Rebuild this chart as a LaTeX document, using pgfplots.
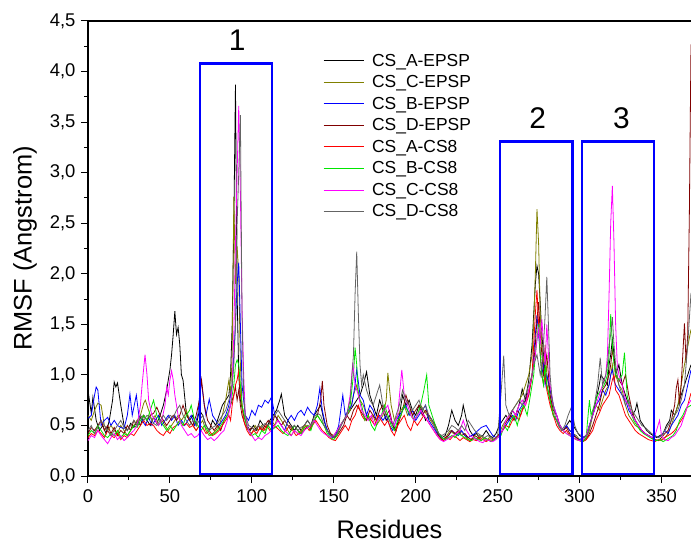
\documentclass[border=0pt]{standalone}
\usepackage{pgfplots}
\pgfplotsset{compat=1.18}
\usepackage{fontspec}
\setmainfont{Liberation Sans}
\usetikzlibrary{calc}
\definecolor{cOlive}{RGB}{128,128,0}
\definecolor{cDRed}{RGB}{128,0,0}
\definecolor{cGreen}{RGB}{0,230,0}
\definecolor{cMag}{RGB}{255,0,255}
\definecolor{cGrey}{RGB}{100,100,100}
\definecolor{cBlue}{RGB}{0,0,255}
\begin{document}
\begin{tikzpicture}
\begin{axis}[
  scale only axis, width=603bp, height=455bp,
  xmin=0, xmax=368, ymin=0, ymax=4.5,
  axis x line*=bottom, axis y line*=left,
  axis line style={line width=1.2bp, black},
  tick align=outside,
  xtick={0,50,...,350}, minor xtick={25,75,...,375},
  ytick={0,0.5,...,4.5}, minor ytick={0.25,0.75,...,4.25},
  major tick length=7bp, minor tick length=4bp,
  every tick/.style={black, line width=1bp},
  /pgf/number format/assume math mode=true,
  yticklabel style={xshift=-2bp, /pgf/number format/.cd, fixed, fixed zerofill, precision=1, use comma},
  ticklabel style={font=\fontsize{18.5}{21}\selectfont},
  xticklabel style={yshift=-3bp},
  xlabel={Residues}, ylabel={RMSF (Angstrom)},
  label style={font=\fontsize{25.5}{29}\selectfont},
  xlabel style={yshift=-11bp},
  ylabel style={yshift=6bp},
  legend style={at={(rel axis cs:0.385,0.937)}, anchor=north west, draw=none, fill=none,
    font=\fontsize{17.5}{20}\selectfont, row sep=3.9bp,
    /tikz/every odd column/.append style={column sep=6bp}},
  legend cell align=left,
  legend image code/.code={\draw[#1] (0bp,0bp) -- (40bp,0bp);},
  every axis plot/.append style={line width=0.8bp},
  clip=true,
]
\addplot[black] coordinates {(0,0.85) (2,0.62) (3,0.78) (5,0.55) (7,0.45) (9,0.5) (11,0.42) (13,0.55) (15,0.75) (16,0.93) (17,0.88) (18,0.92) (20,0.7) (22,0.5) (24,0.45) (26,0.52) (28,0.48) (30,0.55) (32,0.5) (34,0.6) (36,0.55) (38,0.5) (40,0.58) (42,0.52) (44,0.6) (46,0.7) (48,0.85) (50,1.05) (51,1.2) (52,1.4) (53,1.63) (54,1.4) (55,1.47) (56,1.3) (57,1.0) (58,0.95) (60,0.62) (62,0.55) (64,0.6) (66,0.5) (68,0.65) (70,0.6) (72,0.5) (74,0.45) (76,0.55) (78,0.5) (80,0.6) (82,0.7) (84,0.75) (86,0.8) (87,1.0) (88,1.5) (89,2.5) (90,3.87) (91,1.8) (92,1.0) (93,0.75) (95,0.6) (97,0.5) (99,0.45) (101,0.5) (103,0.45) (105,0.55) (107,0.5) (109,0.48) (111,0.55) (113,0.6) (115,0.65) (117,0.75) (118,0.81) (120,0.6) (122,0.55) (124,0.5) (126,0.45) (128,0.5) (130,0.45) (132,0.5) (134,0.55) (136,0.5) (138,0.6) (140,0.65) (142,0.7) (144,0.55) (146,0.45) (148,0.4) (150,0.38) (152,0.42) (154,0.5) (156,0.55) (158,0.6) (160,0.65) (162,0.7) (164,0.75) (166,0.8) (168,0.9) (170,1.03) (172,0.8) (174,0.7) (176,0.6) (178,0.75) (180,0.65) (182,0.55) (184,0.6) (186,0.5) (188,0.45) (190,0.6) (192,0.8) (194,0.7) (196,0.75) (198,0.65) (200,0.6) (202,0.7) (204,0.65) (206,0.55) (208,0.6) (210,0.55) (212,0.5) (214,0.42) (216,0.38) (218,0.4) (220,0.5) (222,0.65) (224,0.55) (226,0.5) (228,0.6) (229,0.7) (231,0.55) (233,0.45) (235,0.4) (237,0.42) (239,0.38) (241,0.4) (243,0.45) (245,0.4) (247,0.38) (249,0.42) (251,0.5) (253,0.55) (255,0.6) (257,0.55) (259,0.65) (261,0.6) (263,0.7) (265,0.86) (267,0.75) (269,0.95) (271,1.3) (272,1.6) (273,1.9) (274,2.08) (275,2.0) (276,1.7) (277,1.4) (278,1.2) (279,1.0) (280,0.9) (282,0.75) (284,0.6) (286,0.55) (288,0.5) (290,0.45) (292,0.5) (294,0.55) (296,0.5) (298,0.45) (300,0.4) (302,0.38) (304,0.4) (306,0.5) (308,0.6) (310,0.75) (312,0.9) (313,1.0) (315,0.95) (317,0.9) (318,1.1) (319,1.2) (320,1.35) (321,1.2) (322,1.0) (324,1.1) (326,0.9) (328,0.8) (330,0.7) (332,0.6) (334,0.65) (335,0.72) (337,0.55) (339,0.5) (341,0.45) (343,0.42) (345,0.4) (347,0.38) (349,0.4) (351,0.42) (353,0.5) (355,0.55) (356,0.65) (358,0.6) (360,0.7) (362,0.8) (364,0.9) (366,1.0) (368,1.1)};
\addlegendentry{CS\_A-EPSP}
\addplot[cOlive] coordinates {(0,0.6) (2,0.55) (4,0.65) (6,0.72) (8,0.7) (10,0.5) (12,0.45) (14,0.5) (16,0.45) (18,0.42) (20,0.5) (22,0.45) (24,0.4) (26,0.45) (28,0.5) (30,0.55) (32,0.6) (34,0.72) (35,0.75) (37,0.65) (39,0.55) (41,0.6) (43,0.5) (45,0.55) (47,0.5) (49,0.45) (51,0.5) (53,0.55) (55,0.6) (57,0.55) (59,0.6) (60,0.65) (62,0.55) (64,0.5) (66,0.45) (68,0.5) (70,0.55) (72,0.45) (74,0.4) (76,0.42) (78,0.45) (80,0.5) (82,0.6) (84,0.75) (86,0.95) (87,0.8) (88,1.2) (89,2.76) (90,1.9) (91,2.27) (92,2.0) (93,1.1) (94,0.7) (96,0.55) (98,0.45) (100,0.42) (102,0.5) (104,0.45) (106,0.5) (108,0.45) (110,0.5) (112,0.55) (114,0.5) (116,0.6) (118,0.55) (120,0.5) (122,0.45) (124,0.4) (126,0.45) (128,0.42) (130,0.45) (132,0.5) (134,0.48) (136,0.5) (138,0.55) (140,0.6) (142,0.55) (144,0.5) (146,0.45) (148,0.42) (150,0.4) (152,0.45) (154,0.5) (156,0.55) (158,0.6) (160,0.65) (162,0.8) (164,0.9) (166,0.75) (168,0.7) (170,0.6) (172,0.55) (174,0.6) (176,0.5) (178,0.55) (180,0.6) (182,0.75) (183,1.02) (185,0.7) (187,0.55) (189,0.6) (191,0.65) (193,0.7) (195,0.6) (197,0.65) (199,0.55) (201,0.6) (203,0.7) (205,0.65) (207,0.6) (209,0.55) (211,0.5) (213,0.42) (215,0.38) (217,0.35) (219,0.4) (221,0.45) (223,0.42) (225,0.4) (227,0.45) (229,0.42) (231,0.38) (233,0.35) (235,0.38) (237,0.36) (239,0.4) (241,0.38) (243,0.35) (245,0.38) (247,0.36) (249,0.38) (251,0.42) (253,0.5) (255,0.55) (257,0.6) (259,0.65) (261,0.7) (263,0.75) (265,0.8) (267,0.9) (269,1.0) (271,1.2) (272,1.5) (273,2.0) (274,2.64) (275,2.3) (276,1.6) (277,1.3) (278,1.1) (279,1.3) (280,1.0) (282,0.8) (284,0.6) (286,0.55) (288,0.48) (290,0.45) (292,0.5) (294,0.45) (296,0.42) (298,0.4) (300,0.36) (302,0.35) (304,0.38) (306,0.45) (308,0.6) (310,0.7) (312,0.65) (314,0.75) (316,0.85) (318,0.9) (319,1.0) (320,1.1) (321,0.95) (322,1.0) (324,0.9) (326,0.85) (328,0.7) (330,0.6) (332,0.55) (334,0.5) (336,0.48) (338,0.45) (340,0.42) (342,0.4) (344,0.38) (346,0.36) (348,0.35) (350,0.36) (352,0.38) (354,0.42) (356,0.5) (358,0.6) (360,0.7) (362,0.9) (364,1.1) (366,1.28) (368,1.45)};
\addlegendentry{CS\_C-EPSP}
\addplot[cBlue] coordinates {(0,0.57) (2,0.6) (4,0.8) (5,0.88) (6,0.85) (8,0.5) (10,0.55) (12,0.58) (14,0.5) (16,0.55) (18,0.5) (20,0.48) (22,0.47) (24,0.6) (25.6,0.81) (27,0.6) (29.5,0.8) (31,0.6) (33,0.55) (35,0.5) (37,0.58) (39,0.5) (41,0.55) (43,0.6) (45,0.5) (47,0.55) (49,0.6) (51,0.55) (53,0.6) (55,0.5) (57,0.55) (59,0.5) (61,0.55) (63,0.6) (65,0.5) (67,0.6) (69,0.95) (71,0.7) (72,0.6) (74,0.76) (76,0.6) (78,0.55) (80,0.5) (82,0.55) (84,0.6) (86,0.7) (88,0.9) (89,1.2) (90,1.5) (91,1.9) (92,2.11) (93,1.5) (94,0.9) (96,0.6) (98,0.55) (100,0.65) (102,0.6) (104,0.7) (106,0.68) (108,0.75) (110,0.72) (112,0.78) (114,0.6) (116,0.55) (118,0.5) (120,0.45) (122,0.55) (124,0.6) (126,0.55) (128,0.62) (130,0.65) (132,0.6) (134,0.68) (136,0.63) (138,0.6) (140,0.7) (141.5,0.87) (143,0.65) (145,0.5) (147,0.42) (149,0.38) (151,0.4) (153,0.5) (155.5,0.8) (157,0.6) (159,0.65) (161,0.7) (163,0.9) (164,1.06) (166,0.8) (168,0.75) (170,0.6) (172,0.7) (174,0.65) (176,0.55) (178,0.6) (180,0.55) (182,0.6) (184,0.5) (186,0.45) (188,0.55) (190,0.6) (192,0.65) (194,0.7) (196,0.6) (198,0.65) (200,0.55) (202,0.6) (204,0.65) (206,0.7) (208,0.55) (210,0.5) (212,0.45) (214,0.4) (216,0.38) (218,0.36) (220,0.4) (222,0.45) (224,0.42) (226,0.4) (228,0.45) (230,0.4) (232,0.38) (234,0.4) (236,0.42) (238,0.45) (240,0.48) (243,0.5) (245,0.45) (247,0.4) (249,0.38) (251,0.4) (253,0.45) (255,0.5) (257,0.55) (259,0.6) (261,0.55) (263,0.65) (265,0.7) (267,0.75) (269,0.8) (271,1.0) (272,1.2) (273,1.4) (274,1.59) (275,1.4) (276,1.2) (277,1.0) (278,1.1) (279,0.9) (280,1.0) (282,0.85) (284,0.7) (286,0.6) (288,0.5) (290,0.45) (292,0.5) (294,0.45) (296,0.42) (298,0.38) (300,0.36) (302,0.38) (304,0.4) (306,0.5) (308,0.6) (310,0.7) (312,0.75) (314,0.85) (316,0.8) (318,0.9) (319,1.0) (320,1.05) (321,0.95) (322,0.9) (324,0.85) (326,0.8) (328,0.75) (330,0.65) (332,0.6) (334,0.55) (336,0.5) (338,0.45) (340,0.42) (342,0.4) (344,0.38) (346,0.4) (348,0.38) (350,0.4) (352,0.45) (354,0.42) (356,0.5) (358,0.55) (360,0.6) (362,0.7) (364,0.75) (366,0.9) (368,1.05)};
\addlegendentry{CS\_B-EPSP}
\addplot[cDRed] coordinates {(0,0.42) (2,0.48) (4,0.45) (6,0.5) (8,0.55) (10,0.45) (12,0.5) (14,0.42) (16,0.48) (18,0.4) (20,0.45) (22,0.42) (24,0.5) (26,0.45) (28,0.55) (30,0.5) (32,0.58) (34,0.6) (36,0.55) (38,0.6) (40,0.62) (42,0.68) (44,0.6) (46,0.55) (48,0.5) (50,0.55) (52,0.6) (54,0.55) (56,0.6) (58,0.7) (60,0.6) (62,0.55) (64,0.5) (66,0.6) (68,0.75) (69.3,0.95) (71,0.7) (73,0.55) (75,0.5) (77,0.45) (79,0.5) (81,0.45) (83,0.55) (85,0.6) (87,0.7) (88,0.75) (89,0.8) (90,0.88) (91,0.75) (92,0.85) (93,0.7) (94,0.6) (96,0.5) (98,0.45) (100,0.48) (102,0.45) (104,0.5) (106,0.45) (108,0.5) (110,0.55) (112,0.5) (114,0.6) (116,0.55) (118,0.5) (120,0.55) (122,0.5) (124,0.45) (126,0.5) (128,0.45) (130,0.42) (132,0.45) (134,0.5) (136,0.48) (138,0.55) (140,0.6) (142,0.75) (143,0.94) (144,0.7) (146,0.5) (148,0.42) (150,0.38) (152,0.4) (154,0.45) (156,0.5) (158,0.6) (160,0.55) (162,0.65) (164,0.7) (166,0.65) (168,0.6) (170,0.55) (172,0.65) (174,0.6) (176,0.55) (178,0.65) (180,0.7) (182,0.6) (184,0.65) (186,0.5) (188,0.45) (190,0.55) (192,0.65) (194,0.8) (196,0.7) (198,0.6) (200,0.65) (202,0.7) (204,0.6) (206,0.65) (208,0.6) (210,0.55) (212,0.5) (214,0.4) (216,0.36) (218,0.38) (220,0.4) (222,0.45) (224,0.42) (226,0.45) (228,0.4) (230,0.42) (232,0.38) (234,0.36) (236,0.4) (238,0.38) (240,0.35) (242,0.38) (244,0.36) (246,0.34) (248,0.36) (250,0.4) (252,0.42) (254,0.5) (256,0.55) (258,0.6) (260,0.55) (262,0.65) (264,0.6) (266,0.7) (268,0.8) (270,0.9) (272,1.1) (273,1.3) (274,1.55) (275,1.72) (276,1.4) (277,1.2) (278,1.0) (279,1.1) (280,1.2) (281,1.0) (282,0.8) (284,0.65) (286,0.6) (288,0.5) (290,0.45) (292,0.48) (294,0.42) (296,0.4) (298,0.38) (300,0.35) (302,0.34) (304,0.36) (306,0.42) (308,0.5) (310,0.6) (312,0.7) (314,0.85) (316,0.9) (318,1.0) (319,1.1) (320,1.25) (321,1.15) (322,1.0) (324,0.95) (326,0.9) (328,1.0) (330,0.8) (332,0.65) (334,0.55) (336,0.5) (338,0.45) (340,0.42) (342,0.4) (344,0.38) (346,0.36) (348,0.35) (350,0.38) (352,0.42) (354,0.45) (356,0.55) (358,0.7) (359,0.87) (360,0.95) (361,0.7) (362,0.9) (363,1.2) (364,1.51) (365,1.12) (366,1.4) (367,2.6) (368,4.27)};
\addlegendentry{CS\_D-EPSP}
\addplot[red] coordinates {(0,0.38) (2,0.42) (4,0.4) (6,0.45) (8,0.42) (10,0.38) (12,0.45) (14,0.4) (16,0.38) (18,0.42) (20,0.36) (22,0.4) (24,0.38) (26,0.42) (28,0.4) (30,0.45) (32,0.5) (34,0.55) (36,0.5) (38,0.52) (40,0.5) (42,0.45) (44,0.42) (46,0.4) (48,0.45) (50,0.42) (52,0.48) (54,0.5) (56,0.55) (58,0.5) (60,0.52) (62,0.48) (64,0.5) (66,0.45) (68,0.5) (70,0.48) (72,0.42) (74,0.45) (76,0.4) (78,0.42) (80,0.45) (82,0.5) (84,0.55) (86,0.6) (87,0.55) (88,0.7) (89,0.8) (90,0.9) (91,0.95) (92,1.05) (93,0.8) (94,0.7) (95,0.55) (97,0.45) (99,0.4) (101,0.45) (103,0.42) (105,0.48) (107,0.45) (109,0.5) (111,0.45) (113,0.5) (115,0.48) (117,0.45) (119,0.42) (121,0.45) (123,0.5) (125,0.45) (127,0.4) (129,0.42) (131,0.45) (133,0.5) (135,0.45) (137,0.5) (139,0.55) (141,0.5) (143,0.45) (145,0.42) (147,0.38) (149,0.36) (151,0.35) (153,0.4) (155,0.45) (157,0.5) (159,0.45) (161,0.55) (163,0.6) (165,0.7) (167,0.6) (169,0.55) (171,0.6) (173,0.55) (175,0.5) (177,0.6) (179,0.55) (181,0.5) (183,0.55) (185,0.45) (187,0.4) (189,0.5) (191,0.55) (193,0.6) (195,0.5) (197,0.45) (199,0.55) (201,0.5) (203,0.55) (205,0.6) (207,0.55) (209,0.5) (211,0.45) (213,0.4) (215,0.36) (217,0.35) (219,0.38) (221,0.36) (223,0.4) (225,0.38) (227,0.35) (229,0.38) (231,0.36) (233,0.34) (235,0.36) (237,0.35) (239,0.38) (241,0.36) (243,0.34) (245,0.36) (247,0.35) (249,0.38) (251,0.4) (253,0.45) (255,0.5) (257,0.48) (259,0.55) (261,0.6) (263,0.55) (265,0.65) (267,0.7) (269,0.8) (271,1.0) (272,1.3) (273,1.6) (274,1.84) (275,1.5) (276,1.2) (277,1.0) (278,0.9) (279,1.0) (280,0.85) (282,0.7) (284,0.6) (286,0.5) (288,0.45) (290,0.42) (292,0.45) (294,0.4) (296,0.38) (298,0.36) (300,0.35) (302,0.34) (304,0.36) (306,0.4) (308,0.45) (310,0.55) (312,0.62) (314,0.7) (316,0.75) (318,0.8) (319,0.88) (320,0.95) (321,1.0) (322,0.85) (324,0.8) (326,0.7) (328,0.6) (330,0.55) (332,0.5) (334,0.45) (336,0.42) (338,0.4) (340,0.38) (342,0.36) (344,0.35) (346,0.34) (348,0.36) (350,0.35) (352,0.38) (354,0.4) (356,0.42) (358,0.45) (360,0.5) (362,0.55) (364,0.6) (366,0.7) (368,0.82)};
\addlegendentry{CS\_A-CS8}
\addplot[cGreen] coordinates {(0,0.4) (2,0.45) (4,0.42) (6,0.5) (8,0.45) (10,0.4) (12,0.38) (14,0.42) (16,0.4) (18,0.45) (20,0.38) (22,0.42) (24,0.4) (26,0.45) (28,0.5) (30,0.48) (32,0.55) (34,0.6) (36,0.55) (38,0.65) (40,0.75) (42,0.6) (44,0.55) (46,0.5) (48,0.45) (50,0.5) (52,0.45) (54,0.5) (56,0.55) (58,0.5) (60,0.6) (62,0.65) (63,0.7) (65,0.55) (67,0.5) (69,0.45) (71,0.5) (73,0.45) (75,0.4) (77,0.42) (79,0.45) (81,0.5) (83,0.55) (85,0.6) (87,0.7) (88,0.8) (89,0.9) (90,1.1) (91,1.15) (92,1.1) (93,0.9) (94,0.7) (96,0.55) (98,0.45) (100,0.4) (102,0.42) (104,0.38) (106,0.45) (108,0.42) (110,0.5) (112,0.45) (114,0.48) (116,0.5) (118,0.45) (120,0.42) (122,0.4) (124,0.45) (126,0.5) (128,0.45) (130,0.42) (132,0.48) (134,0.5) (136,0.45) (138,0.55) (140,0.6) (142,0.55) (144,0.5) (146,0.42) (148,0.38) (150,0.36) (152,0.4) (154,0.5) (156,0.55) (158,0.6) (160,0.7) (162,1.0) (163,1.27) (164,1.1) (165,0.8) (167,0.7) (169,0.55) (171,0.6) (173,0.5) (175,0.45) (177,0.55) (179,0.6) (181,0.7) (183,0.6) (185,0.5) (187,0.45) (189,0.55) (191,0.6) (193,0.7) (195,0.65) (197,0.6) (199,0.55) (201,0.6) (203,0.7) (205,0.85) (206.7,1.0) (208,0.7) (210,0.6) (212,0.5) (214,0.42) (216,0.38) (218,0.36) (220,0.38) (222,0.4) (224,0.38) (226,0.42) (228,0.4) (230,0.38) (232,0.36) (234,0.35) (236,0.38) (238,0.36) (240,0.35) (242,0.38) (244,0.36) (246,0.34) (248,0.36) (250,0.38) (252,0.4) (254,0.5) (256,0.45) (258,0.55) (260,0.6) (262,0.5) (264,0.65) (266,0.7) (268,0.6) (270,0.8) (272,1.0) (273,1.2) (274,1.35) (275,1.5) (276,1.2) (277,1.0) (278,0.9) (279,1.1) (280,0.9) (282,0.75) (284,0.6) (286,0.55) (288,0.5) (290,0.45) (292,0.42) (294,0.4) (296,0.38) (298,0.36) (300,0.35) (302,0.34) (304,0.38) (306,0.75) (307,0.6) (309,0.7) (311,0.8) (313,0.85) (315,0.9) (317,1.0) (318,1.2) (319,1.6) (320,1.3) (321,1.1) (322,1.0) (324,0.95) (326,1.0) (327.4,1.22) (329,0.8) (331,0.65) (333,0.55) (335,0.5) (337,0.45) (339,0.42) (341,0.4) (343,0.38) (345,0.36) (347,0.35) (349,0.36) (351,0.34) (353,0.36) (355,0.38) (357,0.4) (359,0.45) (361,0.55) (363,0.6) (365,0.67) (368,0.7)};
\addlegendentry{CS\_B-CS8}
\addplot[cMag] coordinates {(0,0.35) (2,0.4) (4,0.38) (6,0.45) (8,0.4) (10,0.36) (12,0.32) (14,0.38) (16,0.42) (18,0.36) (20,0.4) (22,0.35) (24,0.38) (26,0.42) (28,0.45) (30,0.5) (32,0.7) (33,0.9) (34.8,1.2) (36,1.0) (37,0.75) (39,0.6) (41,0.55) (43,0.5) (45,0.55) (47,0.7) (48,0.88) (49,0.8) (50,0.95) (51,1.04) (52,0.95) (53,0.8) (55,0.6) (57,0.5) (59,0.45) (61,0.4) (63,0.42) (65,0.38) (67,0.4) (69,0.45) (71,0.4) (73,0.36) (75,0.38) (77,0.35) (79,0.38) (81,0.42) (83,0.45) (85,0.55) (87,0.7) (88,0.9) (89,1.4) (90,2.3) (91,3.0) (92,3.66) (93,2.8) (94,1.66) (95,1.0) (96,0.6) (98,0.45) (100,0.4) (102,0.35) (104,0.38) (106,0.36) (108,0.4) (110,0.42) (112,0.45) (114,0.5) (116,0.55) (118,0.5) (120,0.45) (122,0.42) (124,0.4) (126,0.45) (128,0.42) (130,0.4) (132,0.45) (134,0.48) (136,0.5) (138,0.55) (140,0.5) (142,0.45) (144,0.42) (146,0.4) (148,0.38) (150,0.4) (152,0.45) (154,0.5) (156,0.55) (158,0.6) (160,0.8) (161.6,1.12) (163,0.9) (165,0.8) (167,0.65) (169,0.6) (171,0.55) (173,0.6) (175,0.5) (177,0.55) (179,0.6) (181,0.65) (183,0.7) (185,0.55) (187,0.5) (189,0.6) (191.5,1.05) (193,0.8) (195,0.7) (197,0.6) (199,0.55) (201,0.6) (203,0.65) (205,0.6) (207,0.55) (209,0.5) (211,0.45) (213,0.4) (215,0.36) (217,0.34) (219,0.36) (221,0.38) (223,0.4) (225,0.42) (227,0.45) (229,0.55) (231,0.45) (233,0.4) (235,0.38) (237,0.36) (239,0.34) (241,0.33) (243,0.36) (245,0.35) (247,0.34) (249,0.36) (251,0.4) (253,0.45) (255,0.55) (257,0.6) (259,0.65) (261,0.6) (263,0.7) (265,0.75) (267,0.7) (269,0.85) (271,1.0) (273,1.2) (274,1.35) (275,1.45) (276,1.3) (277,1.55) (278,1.3) (279,1.1) (280,1.5) (281,1.2) (282,0.9) (284,0.7) (286,0.6) (288,0.5) (290,0.45) (292,0.42) (294,0.4) (296,0.38) (298,0.36) (300,0.35) (302,0.36) (304,0.4) (306,0.5) (308,0.6) (310,0.7) (312,0.8) (314,0.9) (316,1.0) (317,1.2) (318,1.8) (319,2.5) (320,2.87) (321,2.3) (322,1.5) (323,1.1) (324,1.0) (326,0.9) (328,0.75) (330,0.7) (332,0.6) (334,0.55) (336,0.5) (338,0.45) (340,0.42) (342,0.4) (344,0.38) (346,0.4) (348.8,0.55) (350,0.4) (352,0.36) (354,0.35) (356,0.38) (358,0.4) (360,0.45) (362,0.5) (364,0.6) (366,0.7) (368,0.75)};
\addlegendentry{CS\_C-CS8}
\addplot[cGrey] coordinates {(0,0.45) (2,0.5) (4,0.42) (6,0.48) (8,0.55) (10,0.5) (12,0.45) (14,0.4) (16,0.45) (18,0.5) (20,0.55) (22,0.48) (24,0.45) (26,0.5) (28,0.55) (30,0.5) (32,0.6) (34,0.55) (36,0.6) (38,0.58) (40,0.52) (42,0.5) (44,0.55) (46,0.6) (48,0.55) (50,0.6) (52,0.58) (54,0.65) (56,0.7) (58,0.6) (60,0.55) (62,0.5) (64,0.55) (66,0.5) (68,0.55) (70,0.6) (72,0.5) (74,0.45) (76,0.48) (78,0.5) (80,0.55) (82,0.6) (84,0.65) (86,0.75) (88,0.9) (89,1.1) (90,1.5) (91,2.5) (92,3.0) (93,3.57) (94,1.6) (95,0.8) (96,0.6) (98,0.5) (100,0.48) (102,0.45) (104,0.5) (106,0.48) (108,0.52) (110,0.5) (112,0.55) (114,0.6) (116,0.65) (118,0.6) (120,0.55) (122,0.5) (124,0.48) (126,0.5) (128,0.45) (130,0.48) (132,0.5) (134,0.55) (136,0.5) (138,0.58) (140,0.62) (142,0.6) (144,0.5) (146,0.45) (148,0.4) (150,0.38) (152,0.42) (154,0.48) (156,0.55) (158,0.62) (160,0.75) (162,1.2) (163,1.8) (164,2.22) (165,1.6) (166,1.1) (167,0.9) (168,1.0) (170,0.85) (172,0.75) (174,0.7) (176,0.8) (178,0.9) (180,0.7) (182,0.6) (184,0.55) (186,0.5) (188,0.6) (190,0.7) (192,0.85) (194,0.75) (196,0.7) (198,0.65) (200,0.7) (202,0.75) (204,0.65) (206,0.7) (208,0.6) (210,0.55) (212,0.48) (214,0.42) (216,0.4) (218,0.42) (220,0.45) (222,0.5) (224,0.48) (226,0.45) (228,0.5) (230,0.45) (232,0.55) (234,0.5) (236,0.45) (238,0.42) (240,0.4) (242,0.38) (244,0.4) (246,0.38) (248,0.36) (250,0.4) (252,0.8) (253.7,1.19) (255,0.7) (257,0.6) (259,0.65) (261,0.7) (263,0.75) (265,0.7) (267,0.8) (269,0.9) (271,1.0) (272,1.1) (273,1.15) (274,1.2) (275,1.1) (276,1.0) (277,1.1) (278,1.3) (279,1.6) (280,1.97) (281,1.5) (282,1.0) (283,0.8) (285,0.6) (287,0.5) (289,0.45) (291,0.5) (293,0.6) (295,0.68) (297,0.5) (299,0.42) (301,0.4) (303,0.38) (305,0.42) (307,0.55) (309,0.7) (311,0.9) (312.6,1.17) (314,0.9) (316,1.0) (317,1.1) (318,1.3) (319,1.4) (320,1.57) (321,1.3) (322,1.1) (324,0.9) (326,0.8) (328,0.7) (330,0.75) (332,0.65) (334,0.6) (336,0.55) (338,0.5) (340,0.48) (342,0.45) (344,0.42) (346,0.4) (348,0.38) (350,0.4) (352,0.45) (354,0.5) (356,0.55) (358,0.6) (360,0.65) (362,0.75) (364,0.9) (366,1.3) (368,1.81)};
\addlegendentry{CS\_D-CS8}
\draw[cBlue, line width=2.6bp] (axis cs:68.3,0.02) rectangle (axis cs:112.2,4.08);
\draw[cBlue, line width=2.6bp] (axis cs:251.5,0.02) rectangle (axis cs:295.5,3.31);
\draw[cBlue, line width=2.6bp] (axis cs:301.5,0.02) rectangle (axis cs:345.5,3.31);
\node[font=\fontsize{30}{34}\selectfont] at (axis cs:91,4.31) {1};
\node[font=\fontsize{30}{34}\selectfont] at (axis cs:274.5,3.54) {2};
\node[font=\fontsize{30}{34}\selectfont] at (axis cs:325.5,3.54) {3};
\coordinate (bl) at (rel axis cs:0,0);
\coordinate (tr) at (rel axis cs:1,1);
\coordinate (tl) at (rel axis cs:0,1);
\end{axis}
\draw[line width=1.2bp] (tl) -- (tr);
\pgfresetboundingbox
\path[use as bounding box] ($(bl)+(-88bp,-70bp)$) rectangle ($(tr)+(0bp,21bp)$);
\end{tikzpicture}
\end{document}
